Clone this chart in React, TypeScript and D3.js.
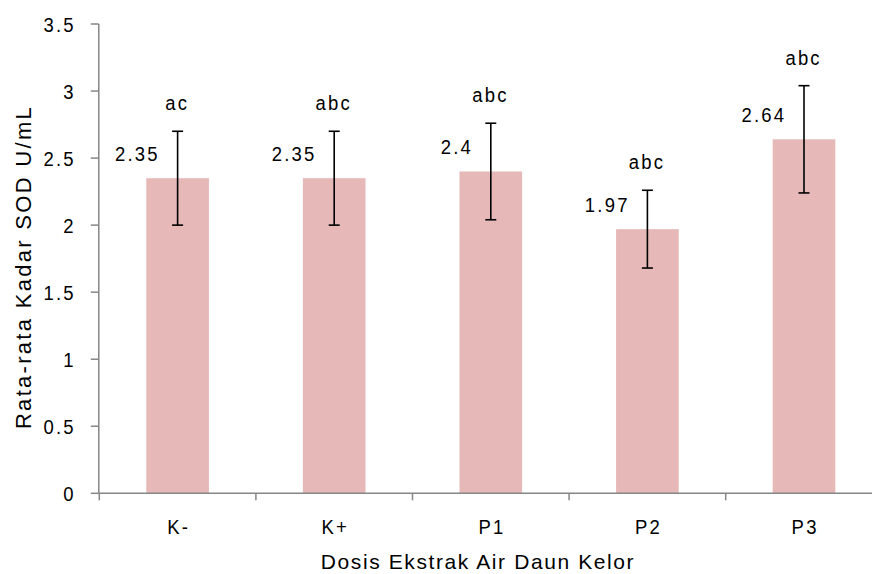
import React from "react";
import * as d3 from "d3";

const categories = ["K-", "K+", "P1", "P2", "P3"];
const means = [2.35, 2.35, 2.4, 1.97, 2.64];
const errors = [0.35, 0.35, 0.36, 0.29, 0.4];
const letters = ["ac", "abc", "abc", "abc", "abc"];
const yTicks = [0, 0.5, 1, 1.5, 2, 2.5, 3, 3.5];

const W = 872;
const H = 574;
const numFont = "'Liberation Sans', Arial, sans-serif";
const titleFont = "'Liberation Sans', Arial, sans-serif";
const numSize = 21;
const numLS = 2.5;
const sx = 0.88;

function NText({
  x,
  y,
  anchor,
  children,
  dy,
}: {
  x: number;
  y: number;
  anchor: "start" | "middle" | "end";
  children: React.ReactNode;
  dy?: string;
}) {
  const shift = anchor === "end" ? numLS * sx : anchor === "middle" ? (numLS * sx) / 2 : 0;
  return (
    <text
      transform={`translate(${x + shift},${y}) scale(${sx},1)`}
      dy={dy}
      textAnchor={anchor}
      fontFamily={numFont}
      fontSize={numSize}
      letterSpacing={numLS}
      fill="#000"
    >
      {children}
    </text>
  );
}

export default function App() {
  const x = d3
    .scaleBand<string>()
    .domain(categories)
    .range([99.3, 882.3])
    .paddingInner(0.6)
    .paddingOuter(0.3);
  const y = d3.scaleLinear().domain([0, 3.5]).range([493.3, 24]);
  const step = x.step();
  const axisColor = "#868686";
  const x0 = 98.8;
  const y0 = y(0);

  return (
    <svg
      width={W}
      height={H}
      style={{ position: "absolute", left: 0, top: 0, background: "#fff" }}
    >
      {/* bars */}
      {categories.map((c, i) => (
        <rect
          key={c}
          x={x(c)!}
          y={y(means[i])}
          width={x.bandwidth()}
          height={y0 - y(means[i])}
          fill="#E6B9B8"
        />
      ))}
      {/* axes */}
      <line x1={x0} x2={x0} y1={y(3.5)} y2={y0} stroke={axisColor} strokeWidth={1.5} />
      <line x1={x0} x2={W} y1={y0} y2={y0} stroke={axisColor} strokeWidth={1.5} />
      {yTicks.map((t) => (
        <g key={t}>
          <line x1={x0 - 8} x2={x0} y1={y(t)} y2={y(t)} stroke={axisColor} strokeWidth={1.5} />
          <NText x={73.5} y={y(t)} dy="0.36em" anchor="end">
            {d3.format("")(t)}
          </NText>
        </g>
      ))}
      {categories.map((c) => {
        const left = x(c)! - (step - x.bandwidth()) / 2;
        return (
          <line
            key={"t" + c}
            x1={left}
            x2={left}
            y1={y0}
            y2={y0 + 7}
            stroke={axisColor}
            strokeWidth={1.5}
          />
        );
      })}
      {categories.map((c) => (
        <NText key={"l" + c} x={x(c)! + x.bandwidth() / 2} y={534} anchor="middle">
          {c}
        </NText>
      ))}
      {/* error bars */}
      {categories.map((c, i) => {
        const cx = x(c)! + x.bandwidth() / 2;
        const top = y(means[i] + errors[i]);
        const bot = y(means[i] - errors[i]);
        return (
          <g key={"e" + c} stroke="#000" strokeWidth={1.6}>
            <line x1={cx} x2={cx} y1={top} y2={bot} />
            <line x1={cx - 5.5} x2={cx + 5.5} y1={top} y2={top} />
            <line x1={cx - 5.5} x2={cx + 5.5} y1={bot} y2={bot} />
          </g>
        );
      })}
      {/* value labels */}
      {categories.map((c, i) => {
        const cx = x(c)! + x.bandwidth() / 2;
        return (
          <NText key={"v" + c} x={cx - 20} y={y(means[i]) - 17.5} anchor="end">
            {d3.format("")(means[i])}
          </NText>
        );
      })}
      {/* significance letters */}
      {categories.map((c, i) => {
        const cx = x(c)! + x.bandwidth() / 2;
        return (
          <NText key={"s" + c} x={cx - 1.5} y={y(means[i] + errors[i]) - 21} anchor="middle">
            {letters[i]}
          </NText>
        );
      })}
      {/* titles */}
      <text
        x={478}
        y={569}
        textAnchor="middle"
        fontFamily={titleFont}
        fontSize={21}
        letterSpacing={1.6}
        fill="#000"
      >
        Dosis Ekstrak Air Daun Kelor
      </text>
      <text
        transform={`translate(30.5, 267) rotate(-90)`}
        textAnchor="middle"
        fontFamily={titleFont}
        fontSize={22}
        letterSpacing={2.3}
        fill="#000"
      >
        Rata-rata Kadar SOD U/mL
      </text>
    </svg>
  );
}
